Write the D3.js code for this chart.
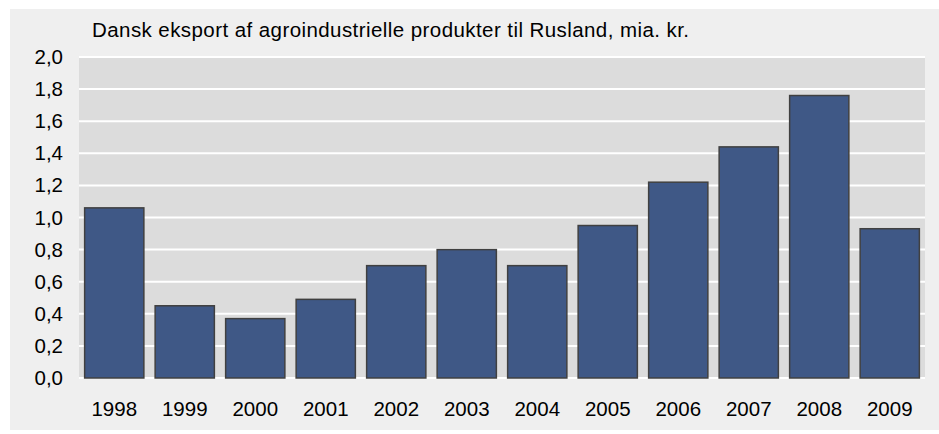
<!DOCTYPE html>
<html>
<head>
<meta charset="utf-8">
<script src="https://cdn.jsdelivr.net/npm/d3@7"></script>
<style>
  body { margin: 0; background: #fff; }
  svg { display: block; font-family: "Liberation Sans", Arial, sans-serif; }
</style>
</head>
<body>
<div id="chart"></div>
<script>
"use strict";

var years = ["1998", "1999", "2000", "2001", "2002", "2003", "2004", "2005", "2006", "2007", "2008", "2009"];
var exports = [1.06, 0.45, 0.37, 0.49, 0.70, 0.80, 0.70, 0.95, 1.22, 1.44, 1.76, 0.93];
var yTicks = [0, 0.2, 0.4, 0.6, 0.8, 1.0, 1.2, 1.4, 1.6, 1.8, 2.0];
var title = "Dansk eksport af agroindustrielle produkter til Rusland, mia. kr.";

var width = 939, height = 434;
var plot = { left: 79, right: 925, top: 57, bottom: 378 };

var svg = d3.select("#chart").append("svg")
  .attr("width", width)
  .attr("height", height);

// outer panel
svg.append("rect")
  .attr("x", 10).attr("y", 9)
  .attr("width", width - 10).attr("height", 421)
  .attr("fill", "#efefef");

// plot area
svg.append("rect")
  .attr("x", plot.left).attr("y", plot.top)
  .attr("width", plot.right - plot.left).attr("height", plot.bottom - plot.top)
  .attr("fill", "#dcdcdc");

var x = d3.scaleBand()
  .domain(years)
  .range([plot.left, plot.right])
  .paddingInner(0.16)
  .paddingOuter(0.08);

var y = d3.scaleLinear()
  .domain([0, 2])
  .range([plot.bottom, plot.top]);

// gridlines
svg.append("g")
  .selectAll("line")
  .data(yTicks)
  .enter().append("line")
  .attr("x1", plot.left)
  .attr("x2", plot.right)
  .attr("y1", function(d) { return y(d); })
  .attr("y2", function(d) { return y(d); })
  .attr("stroke", "#ffffff")
  .attr("stroke-width", 2);

// bars
svg.append("g")
  .selectAll("rect")
  .data(exports)
  .enter().append("rect")
  .attr("x", function(d, i) { return x(years[i]); })
  .attr("y", function(d) { return y(d); })
  .attr("width", x.bandwidth())
  .attr("height", function(d) { return y(0) - y(d); })
  .attr("fill", "#3f5886")
  .attr("stroke", "#404040")
  .attr("stroke-width", 1.5);

// y axis labels
var yAxis = d3.axisLeft(y)
  .tickValues(yTicks)
  .tickSize(0)
  .tickPadding(16)
  .tickFormat(function(d) { return d3.format(".1f")(d).replace(".", ","); });

svg.append("g")
  .attr("transform", "translate(" + plot.left + ",0)")
  .call(yAxis)
  .call(function(g) { g.select(".domain").remove(); })
  .selectAll("text")
  .attr("font-size", 20.5)
  .attr("font-family", "Liberation Sans, Arial, sans-serif")
  .attr("fill", "#000");

// x axis labels
var xAxis = d3.axisBottom(x).tickSize(0).tickPadding(23);

svg.append("g")
  .attr("transform", "translate(0," + plot.bottom + ")")
  .call(xAxis)
  .call(function(g) { g.select(".domain").remove(); })
  .selectAll("text")
  .attr("font-size", 20.5)
  .attr("font-family", "Liberation Sans, Arial, sans-serif")
  .attr("fill", "#000");

// title
svg.append("text")
  .attr("x", 92)
  .attr("y", 37)
  .attr("font-size", 20.5)
  .attr("textLength", 597)
  .attr("lengthAdjust", "spacing")
  .attr("fill", "#000")
  .text(title);
</script>
</body>
</html>
